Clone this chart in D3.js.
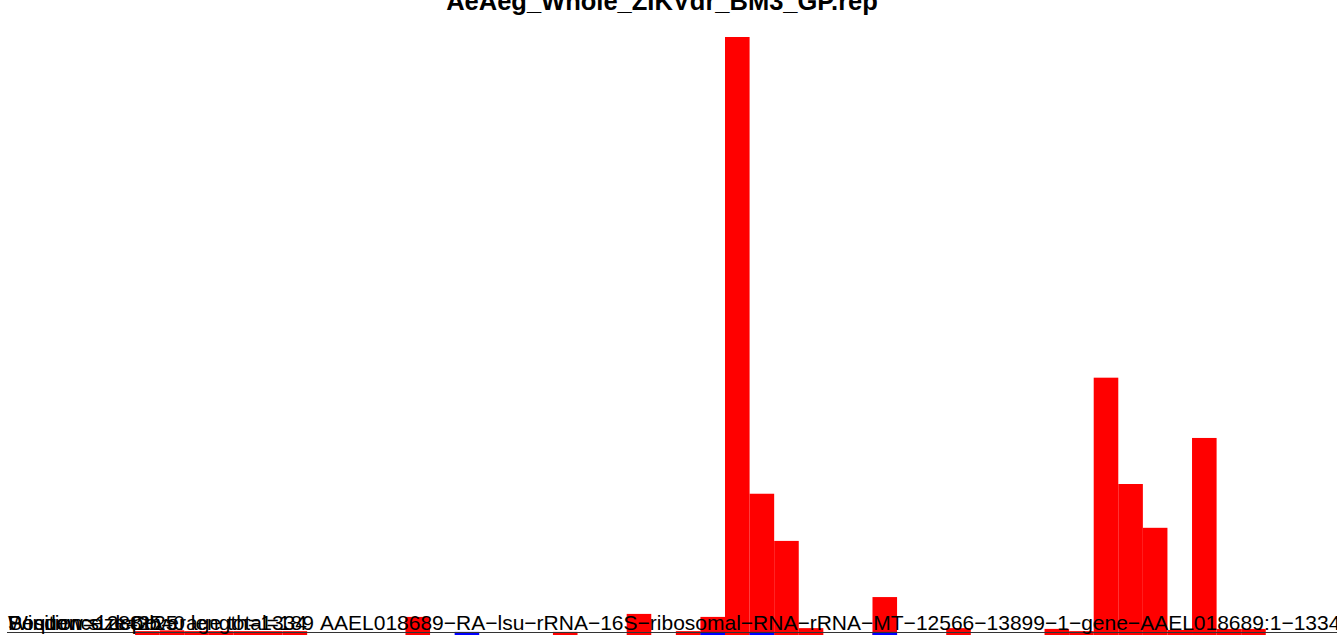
<!DOCTYPE html>
<html>
<head>
<meta charset="utf-8">
<script src="https://cdn.jsdelivr.net/npm/d3@7"></script>
<style>
  html, body { margin: 0; padding: 0; background: #fff; overflow: hidden; }
  svg { display: block; font-family: "Liberation Sans", Arial, Helvetica, sans-serif; }
</style>
</head>
<body>
<svg id="graph" width="1337" height="635"></svg>
<script>
(function() {
    // window start positions (window size 25 over 1334 nt)
    var binStarts = d3.range(0, 1350, 25);
    // depth per window
    var senseDepth = [0, 0, 0, 0, 0, 1.3, 1.5, 1.3, 1.3, 1.3, 1.3, 1.3, 0, 0, 0, 0,
        5.1, 0, 0, 0, 0, 0, 1.1, 0, 0, 5.9, 0, 1.3, 5.1, 160, 38, 25.4,
        2.1, 0, 0, 10.4, 0, 0, 2.1, 0, 0, 0, 1.9, 1.3, 69, 40.6, 28.9, 1.6,
        52.9, 1.9, 1.9, 0, 0, 0];
    var antisenseDepth = [0, 0, 0, 0, 0, 0, 0, 0, 0, 0, 0, 0, 0, 0, 0, 0,
        0, 0, 1.1, 0, 0, 0, 0, 0, 0, 0, 0, 0, 1.1, 0, 1.1, 0,
        0, 0, 0, 1.1, 0, 0, 0, 0, 0, 0, 0, 0, 0, 0, 0, 0,
        0, 0, 0, 0, 0, 0];
    var title = "AeAeg_Whole_ZIKVdr_BM3_GP.rep";
    var notes = ["Window size=25", "Position=1288\u221225", "Sequence depth=0 length=1334", "Coverage total=189"];
    var seqName = "AAEL018689\u2212RA\u2212lsu\u2212rRNA\u221216S\u2212ribosomal\u2212RNA\u2212rRNA\u2212MT\u221212566\u221213899\u22121\u2212gene\u2212AAEL018689:1\u22121334";
    var refLine = 1.2;

    var svg = d3.select("#graph");
    var width = 1337;

    var x = d3.scaleLinear()
        .domain([0, 1350])
        .range([12.2, 1339.5]);

    var y = d3.scaleLinear()
        .domain([0, 160])
        .range([636, 37]);

    var bins = binStarts.map((s, i) => ({ start: s, sense: senseDepth[i], anti: antisenseDepth[i] }));

    svg.append("g")
        .selectAll("rect")
        .data(bins.filter(d => d.sense > 0))
        .join("rect")
        .attr("x", d => x(d.start))
        .attr("width", d => x(d.start + 25) - x(d.start))
        .attr("y", d => y(d.sense))
        .attr("height", d => y(0) - y(d.sense))
        .attr("fill", "#ff0000");

    svg.append("g")
        .selectAll("rect")
        .data(bins.filter(d => d.anti > 0))
        .join("rect")
        .attr("x", d => x(d.start))
        .attr("width", d => x(d.start + 25) - x(d.start))
        .attr("y", d => y(d.anti))
        .attr("height", d => y(0) - y(d.anti))
        .attr("fill", "#0000ff");

    svg.append("line")
        .attr("x1", 7)
        .attr("x2", width)
        .attr("y1", Math.round(y(refLine)) + 0.5)
        .attr("y2", Math.round(y(refLine)) + 0.5)
        .attr("stroke", "#333")
        .attr("stroke-width", 1);

    // overlapping annotation strings in the bottom left
    svg.append("g")
        .selectAll("text")
        .data(notes)
        .join("text")
        .attr("x", (d, i) => i === 3 ? 130 : 8)
        .attr("y", 630)
        .attr("font-size", 21)
        .attr("fill", "#000")
        .text(d => d);

    svg.append("text")
        .attr("x", 320)
        .attr("y", 630)
        .attr("font-size", 21)
        .attr("fill", "#000")
        .text(seqName);

    svg.append("text")
        .attr("x", 662)
        .attr("y", 10)
        .attr("text-anchor", "middle")
        .attr("font-size", 25.5)
        .attr("font-weight", "bold")
        .text(title);
})();
</script>
</body>
</html>
